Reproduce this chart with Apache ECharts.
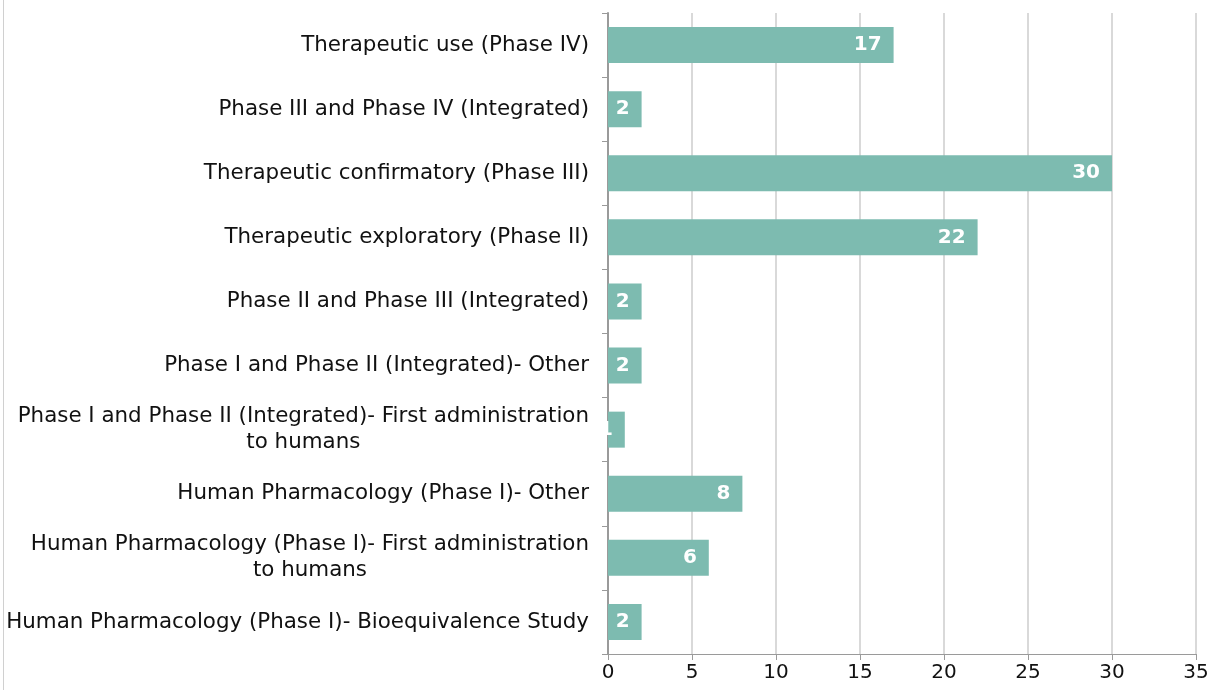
<!DOCTYPE html>
<html>
<head>
<meta charset="utf-8">
<script src="https://cdn.jsdelivr.net/npm/echarts@6/dist/echarts.min.js"></script>
<style>
  html, body { margin: 0; padding: 0; background: #fff; }
  #chart { width: 1217px; height: 690px; }
</style>
</head>
<body>
<div id="chart"></div>
<script>
// categories bottom to top
var categories = [
    'Human Pharmacology (Phase I)- Bioequivalence Study',
    'Human Pharmacology (Phase I)- First administration\nto humans',
    'Human Pharmacology (Phase I)- Other',
    'Phase I and Phase II (Integrated)- First administration\nto humans',
    'Phase I and Phase II (Integrated)- Other',
    'Phase II and Phase III (Integrated)',
    'Therapeutic exploratory (Phase II)',
    'Therapeutic confirmatory (Phase III)',
    'Phase III and Phase IV (Integrated)',
    'Therapeutic use (Phase IV)'
];
var counts = [2, 6, 8, 1, 2, 2, 22, 30, 2, 17];

var myChart = echarts.init(document.getElementById('chart'));

var option = {
    animation: false,
    textStyle: { fontFamily: 'DejaVu Sans' },
    grid: {
        left: 608,
        right: 21,
        top: 13,
        bottom: 36,
        outerBoundsMode: 'none'
    },
    graphic: [{
        type: 'line',
        shape: { x1: 3.5, y1: 0, x2: 3.5, y2: 690 },
        style: { stroke: '#d0d0d0', lineWidth: 1 }
    }],
    xAxis: {
        type: 'value',
        min: 0,
        max: 35,
        interval: 5,
        axisLine: { show: true, lineStyle: { color: '#9a9a9a', width: 1 } },
        axisTick: { show: true, length: 6, lineStyle: { color: '#9a9a9a' } },
        axisLabel: { color: '#111', fontSize: 20, margin: 9 },
        splitLine: { show: true, lineStyle: { color: '#d9d9d9', width: 2 } }
    },
    yAxis: {
        type: 'category',
        data: categories,
        axisLine: { show: true, lineStyle: { color: '#9a9a9a', width: 2 } },
        axisTick: { show: true, length: 6, lineStyle: { color: '#9a9a9a' } },
        axisLabel: {
            color: '#111',
            fontSize: 21.4,
            margin: 19,
            lineHeight: 26,
            align: 'right',
            // centre the wrapped second line under the first
            formatter: function (value) {
                return value.split('\n').map(function (s) {
                    return '{c|' + s + '}';
                }).join('\n');
            },
            rich: {
                c: {
                    align: 'center',
                    color: '#111',
                    fontSize: 21.4,
                    lineHeight: 26,
                    fontFamily: 'DejaVu Sans'
                }
            }
        },
        splitLine: { show: false }
    },
    series: [{
        type: 'bar',
        data: counts,
        barWidth: 36,
        itemStyle: { color: '#7dbbb0' },
        label: {
            show: true,
            position: 'insideRight',
            distance: 12,
            color: '#fff',
            fontSize: 20,
            fontWeight: 'bold'
        }
    }]
};

myChart.setOption(option);
</script>
</body>
</html>
